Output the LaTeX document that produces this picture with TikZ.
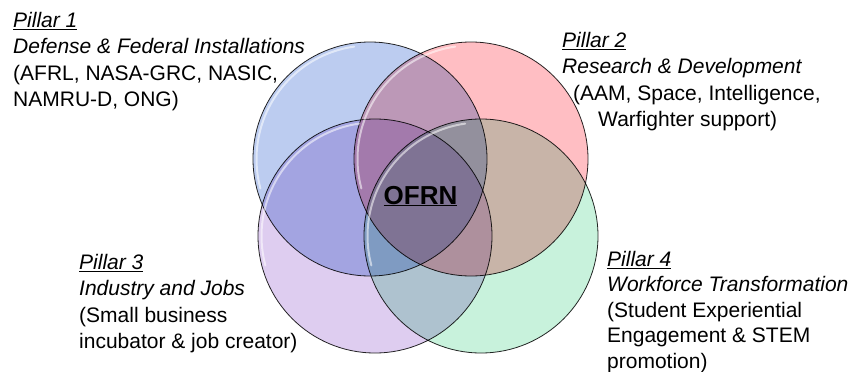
\documentclass[tikz,border=0pt]{standalone}
\usepackage{fontspec}
\setmainfont{Liberation Sans}
\usepackage{tikz}
\usetikzlibrary{positioning}

\definecolor{pillarblue}{RGB}{188,204,240}
\definecolor{pillarred}{RGB}{255,190,195}
\definecolor{pillarpurple}{RGB}{222,205,240}
\definecolor{pillargreen}{RGB}{200,242,220}

\begin{document}
\begin{tikzpicture}[x=1pt, y=-1pt]
    \tikzset{pillarcircle/.style={circle, draw=black!85, line width=0.8pt, minimum size=234pt, inner sep=0pt}}
    \tikzset{pillartext/.style={anchor=north west, inner sep=0pt, align=left, font=\fontsize{21}{26.3}\selectfont}}
    \tikzset{gloss/.style={white, opacity=0.55, line width=2pt, line cap=round}}
    \useasboundingbox (0,0) rectangle (868,372);

    % the four pillars
    \begin{scope}[blend group=multiply]
        \node[pillarcircle, fill=pillarblue]   (defense)  at (370,159) {};
        \node[pillarcircle, fill=pillarred]    (research) at (471,159) {};
        \node[pillarcircle, fill=pillarpurple] (industry) at (375,236) {};
        \node[pillarcircle, fill=pillargreen]  (workforce) at (481,236) {};
    \end{scope}
    \begin{scope}[y=1pt]
        \foreach \c in {defense, research, industry, workforce}
            \draw[gloss] (\c.center) ++(98:113.5) arc[start angle=98, end angle=195, radius=113.5];
    \end{scope}

    \node[anchor=base, inner sep=0pt, font=\fontsize{26}{30}\selectfont\bfseries] (ofrn) at (420.5,204) {\underline{OFRN}};

    % labels
    \node[pillartext] (pillarone) at (13,12)
        {\underline{\textit{Pillar 1}}\\\textit{Defense \& Federal Installations}\\(AFRL, NASA-GRC, NASIC,\\NAMRU-D, ONG)};
    \node[pillartext] (pillartwo) at (562,32)
        {\underline{\textit{Pillar 2}}\\\textit{Research \& Development}\\\hspace*{11pt}(AAM, Space, Intelligence,\\\hspace*{36pt}Warfighter support)};
    \node[pillartext] (pillarthree) at (79,254)
        {\underline{\textit{Pillar 3}}\\\textit{Industry and Jobs}\\(Small business\\incubator \& job creator)};
    \node[pillartext, font=\fontsize{21}{25.5}\selectfont] (pillarfour) at (607,251)
        {\underline{\textit{Pillar 4}}\\\textit{Workforce Transformation}\\(Student Experiential\\Engagement \& STEM\\promotion)};
\end{tikzpicture}
\end{document}
